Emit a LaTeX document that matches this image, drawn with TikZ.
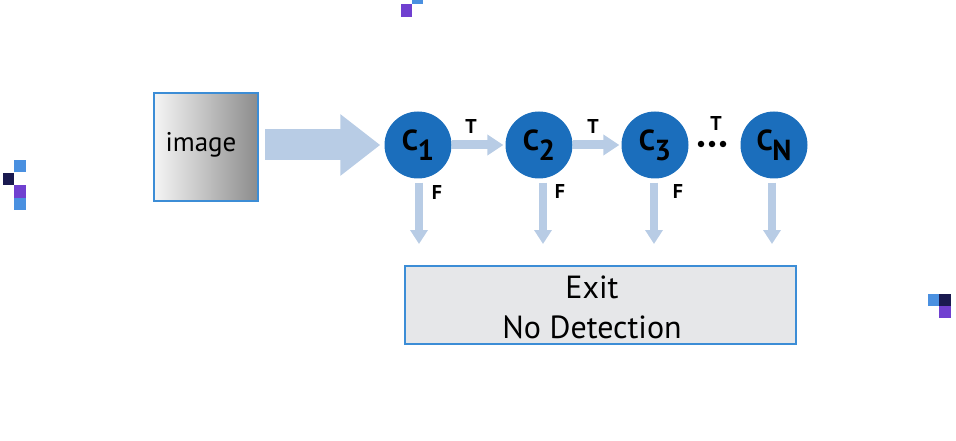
\documentclass[tikz,border=0pt]{standalone}
\usepackage{fontspec}
\setmainfont{PT Sans}
\usetikzlibrary{arrows.meta}
\definecolor{cblue}{HTML}{1B6EBC}
\definecolor{flowc}{HTML}{B8CCE5}
\definecolor{edgec}{HTML}{3C8DD6}
\definecolor{exitc}{HTML}{E6E7E9}
\definecolor{pxblue}{HTML}{4A90E0}
\definecolor{pxnavy}{HTML}{1A1A50}
\definecolor{pxpurple}{HTML}{7040D0}
\tikzset{
  clf/.style={circle, fill=cblue, minimum size=67pt, inner sep=0pt, font=\fontsize{29}{29}\selectfont\bfseries},
  flowh/.style={draw=flowc, line width=9pt, -{Triangle[length=16pt,width=20pt]}},
  flowv/.style={draw=flowc, line width=8pt, -{Triangle[length=14pt,width=17pt]}},
  biga/.style={draw=flowc, line width=31pt, -{Triangle[length=40pt,width=59pt]}},
  lab/.style={font=\fontsize{20}{20}\selectfont\bfseries, inner sep=0pt},
  dot/.style={circle, fill=black, minimum size=6.5pt, inner sep=0pt},
  px/.style={inner sep=0pt}
}
\newcommand{\cname}[1]{C\kern-0.5pt\raisebox{-10pt}{#1}}
\begin{document}
\begin{tikzpicture}[x=1pt,y=-1pt]
\useasboundingbox (0,0) rectangle (956,441);
% pixel artifacts
\fill[pxblue] (14,160) rectangle (26,172);
\fill[pxnavy] (3,173) rectangle (14,185);
\fill[pxpurple] (14,185) rectangle (26,198);
\fill[pxblue] (14,198) rectangle (26,210);
\fill[pxpurple] (401,4) rectangle (412,17);
\fill[pxblue] (412,0) rectangle (423,4);
\fill[pxblue] (928,294) rectangle (939,306);
\fill[pxnavy] (939,294) rectangle (951,306);
\fill[pxpurple] (939,306) rectangle (951,318);
% image box
\node[draw=edgec, line width=2pt, left color=white!92!gray, right color=black!45,
      minimum width=104pt, minimum height=108pt, inner sep=0pt] (img) at (206,147) {};
\node[font=\fontsize{27}{27}\selectfont, inner sep=0pt] (imgt) at (201,145) {image};
% classifiers
\node[clf] (c1) at (418,145) {\cname{1}};
\node[clf] (c2) at (539,145) {\cname{2}};
\node[clf] (c3) at (655,145) {\cname{3}};
\node[clf] (cn) at (774,145) {\cname{N}};
% big arrow
\draw[biga, shorten <=6pt, shorten >=4pt] (img.east |- c1.west) -- (c1.west);
% T arrows
\draw[flowh, shorten >=2pt] (c1.east) -- (c2.west);
\draw[flowh, shorten >=2pt] (c2.east) -- (c3.west);
\node[dot] (d1) at (701,144) {};
\node[dot] (d2) at (712,144) {};
\node[dot] (d3) at (723,144) {};
\node[lab] (t1) at (471,127) {T};
\node[lab] (t2) at (593,127) {T};
\node[lab] (t3) at (716,124) {T};
% exit box
\node[draw=edgec, line width=2pt, fill=exitc, minimum width=391pt, minimum height=78pt, inner sep=0pt] (exit) at (600.5,305) {};
\node[font=\fontsize{32}{40}\selectfont, align=center, inner sep=0pt] (exitt) at (592,307) {Exit\\No Detection};
% F arrows
\coordinate (e1) at (419,244);
\coordinate (e2) at (543,244);
\coordinate (e3) at (654,244);
\coordinate (e4) at (772,244);
\draw[flowv] (c1.south -| e1) ++(0,4) -- (e1);
\draw[flowv] (c2.south -| e2) ++(0,4) -- (e2);
\draw[flowv] (c3.south -| e3) ++(0,4) -- (e3);
\draw[flowv] (cn.south -| e4) ++(0,4) -- (e4);
\node[lab] (f1) at (437,192) {F};
\node[lab] (f2) at (560,191) {F};
\node[lab] (f3) at (678,191) {F};
\end{tikzpicture}
\end{document}
